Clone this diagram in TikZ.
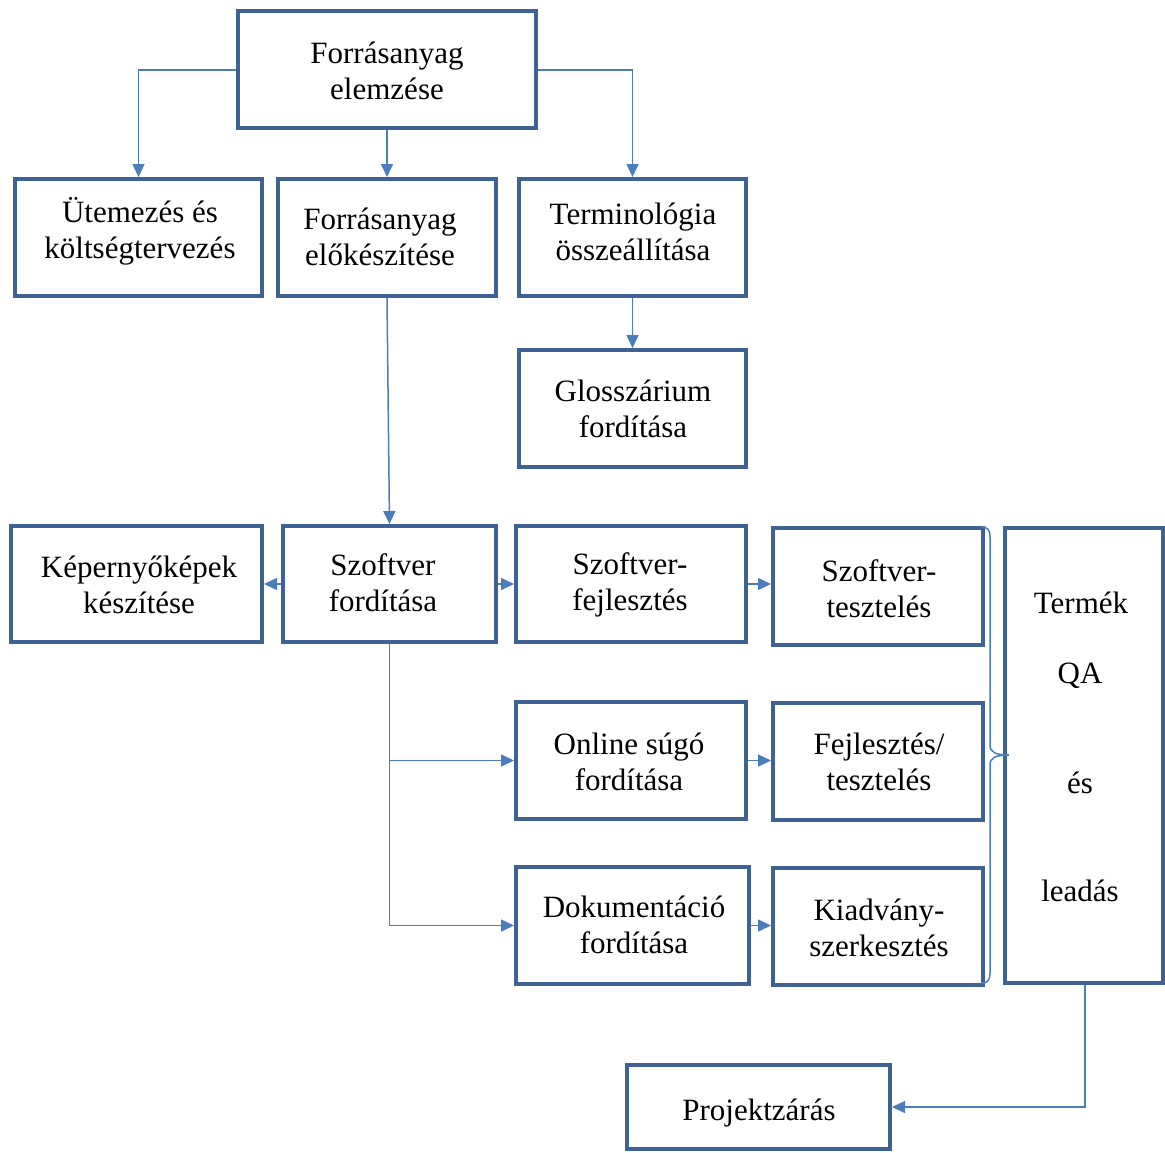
\documentclass[tikz,border=0pt]{standalone}
\usepackage{fontspec}
\setmainfont{Liberation Serif}
\usetikzlibrary{arrows.meta}
\definecolor{boxc}{HTML}{3F6294}
\definecolor{linec}{HTML}{4A7EBB}
\begin{document}
\begin{tikzpicture}[x=1pt,y=-1pt,
  box/.style={draw=boxc,line width=4pt,inner sep=0pt},
  txt/.style={inner sep=0pt,align=center,font=\fontsize{31}{36}\selectfont},
  conn/.style={draw=linec,line width=1.5pt,-{Triangle[length=13pt,width=12pt]}}]
\useasboundingbox (0,0) rectangle (1165,1152);
\fill[white] (0,0) rectangle (1165,1152);
% boxes
\node[box,minimum width=298,minimum height=117] (a) at (387,69.5) {};
\node[box,minimum width=247,minimum height=117] (b) at (138.5,237.5) {};
\node[box,minimum width=218,minimum height=117] (c) at (387,237.5) {};
\node[box,minimum width=227,minimum height=117] (d) at (632.5,237.5) {};
\node[box,minimum width=227,minimum height=117] (e) at (632.5,408.5) {};
\node[box,minimum width=251,minimum height=116] (f) at (136.5,584) {};
\node[box,minimum width=213,minimum height=116] (g) at (389.5,584) {};
\node[box,minimum width=230,minimum height=116] (h) at (631,584) {};
\node[box,minimum width=210,minimum height=117] (i) at (878,586.5) {};
\node[box,minimum width=230,minimum height=117] (j) at (631,760.5) {};
\node[box,minimum width=210,minimum height=117] (k) at (878,761.5) {};
\node[box,minimum width=233,minimum height=117] (l) at (632.5,925.5) {};
\node[box,minimum width=210,minimum height=117] (m) at (878,926.5) {};
\node[box,minimum width=158,minimum height=455] (q) at (1084,755.5) {};
\node[box,minimum width=263,minimum height=84] (p) at (758.5,1107) {};
% texts
\node[txt] (at) at (387,71) {Forrásanyag\\elemzése};
\node[txt] (bt) at (140,231.5) {Ütemezés és\\költségtervezés};
\node[txt] (ct) at (380,236.5) {Forrásanyag\\előkészítése};
\node[txt] (dt) at (633,231.5) {Terminológia\\összeállítása};
\node[txt] (et) at (633,408.5) {Glosszárium\\fordítása};
\node[txt] (ft) at (139,584.5) {Képernyőképek\\készítése};
\node[txt] (gt) at (383,582.5) {Szoftver\\fordítása};
\node[txt] (ht) at (630,584.5) {Szoftver-\\fejlesztés};
\node[txt] (it) at (879,588.5) {Szoftver-\\tesztelés};
\node[txt] (jt) at (629,761.5) {Online súgó\\fordítása};
\node[txt] (kt) at (879,761.5) {Fejlesztés/\\tesztelés};
\node[txt] (lt) at (634,925) {Dokumentáció\\fordítása};
\node[txt] (mt) at (879,928) {Kiadvány-\\szerkesztés};
\node[txt] (pt) at (759,1113) {Projektzárás};
\node[txt] (q1) at (1081,603) {Termék};
\node[txt] (q2) at (1080,676) {QA};
\node[txt] (q3) at (1080,783) {és};
\node[txt] (q4) at (1080,891) {leadás};
% connectors
\draw[conn] (a.west |- 0,70) -| (b.north);
\draw[conn] (a.south) -- (c.north);
\draw[conn] (a.east |- 0,70) -| (d.north);
\draw[conn] (d.south) -- (e.north);
\draw[conn] (c.south) -- (g.north);
\draw[conn] (g.west) -- (f.east);
\draw[conn] (g.east) -- (h.west);
\draw[conn] (h.east) -- (h.east -| i.west);
\draw[conn] (g.south) |- (j.west);
\draw[conn] (g.south) |- (l.west);
\draw[conn] (j.east) -- (j.east -| k.west);
\draw[conn] (l.east) -- (l.east -| m.west);
\draw[conn] (q.south -| 1085,0) |- (p.east);
% brace
\draw[linec,line width=1.5pt] (981,527) .. controls (988,527) and (990,530) .. (990,537)
  -- (990,745) .. controls (990,752) and (995,755) .. (1009,755)
  .. controls (995,755) and (990,758) .. (990,765)
  -- (990,973) .. controls (990,980) and (988,983) .. (981,983);
\end{tikzpicture}
\end{document}
